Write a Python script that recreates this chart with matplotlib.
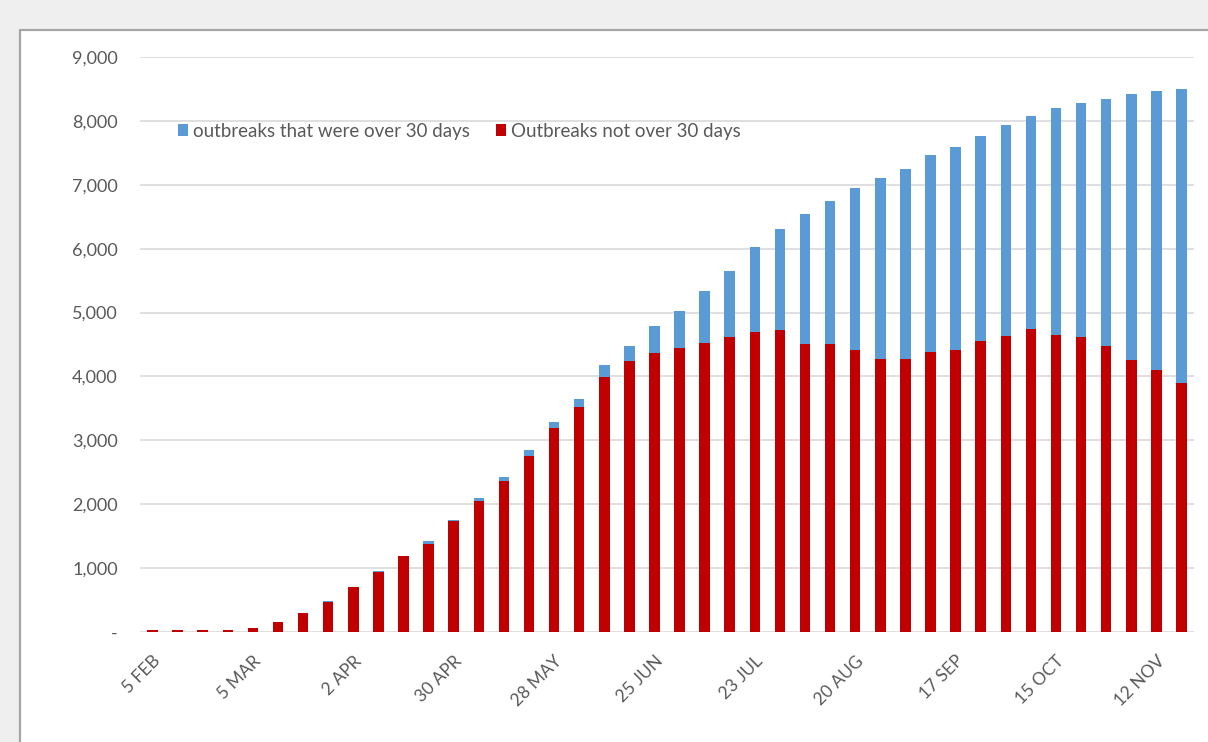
import matplotlib
matplotlib.use("Agg")
import matplotlib.pyplot as plt
from matplotlib.patches import Rectangle
import numpy as np

weeks = ["5 FEB", "12 FEB", "19 FEB", "26 FEB", "5 MAR", "12 MAR", "19 MAR", "26 MAR",
         "2 APR", "9 APR", "16 APR", "23 APR", "30 APR", "7 MAY", "14 MAY", "21 MAY",
         "28 MAY", "4 JUN", "11 JUN", "18 JUN", "25 JUN", "2 JUL", "9 JUL", "16 JUL",
         "23 JUL", "30 JUL", "6 AUG", "13 AUG", "20 AUG", "27 AUG", "3 SEP", "10 SEP",
         "17 SEP", "24 SEP", "1 OCT", "8 OCT", "15 OCT", "22 OCT", "29 OCT", "5 NOV",
         "12 NOV", "19 NOV"]

not_over_30 = [30, 30, 30, 30, 55, 155, 295, 475, 700, 940, 1185, 1370, 1740, 2050,
               2360, 2760, 3190, 3520, 3990, 4240, 4370, 4450, 4530, 4610, 4690, 4720,
               4500, 4500, 4420, 4270, 4270, 4380, 4420, 4560, 4640, 4750, 4650, 4610,
               4480, 4250, 4100, 3900]

total = [30, 30, 30, 30, 55, 160, 300, 480, 710, 950, 1190, 1430, 1750, 2100, 2420,
         2850, 3280, 3650, 4180, 4470, 4790, 5030, 5330, 5650, 6020, 6310, 6550, 6740,
         6950, 7110, 7250, 7460, 7590, 7760, 7940, 8070, 8200, 8285, 8340, 8420, 8470,
         8500]

over_30 = [t - r for t, r in zip(total, not_over_30)]

label_names = ["outbreaks that were over 30 days", "Outbreaks not over 30 days"]
yticks = [0, 1000, 2000, 3000, 4000, 5000, 6000, 7000, 8000, 9000]

RED = "#C00000"
BLUE = "#5B9BD5"
GRID = "#D9D9D9"
TXT = "#595959"

plt.rcParams['font.family'] = ['Lato', 'DejaVu Sans']

W, H = 1208, 742
fig = plt.figure(figsize=(W / 100, H / 100), dpi=100)
fig.patch.set_facecolor("#EFEFEF")
# white chart panel with grey border
bg = Rectangle((20 / W, -0.1), 1.2, (H - 30) / H + 0.1, transform=fig.transFigure,
               facecolor="white", edgecolor="#A6A6A6", linewidth=1.6, zorder=-10)
fig.add_artist(bg)

ax = fig.add_axes([140 / W, 110 / H, 1054 / W, 575 / H])
ax.set_zorder(5)
ax.set_facecolor("none")
x = np.arange(len(weeks))
ax.bar(x, not_over_30, width=0.42, color=RED, label=label_names[1], zorder=3)
ax.bar(x, over_30, width=0.42, bottom=not_over_30, color=BLUE, label=label_names[0], zorder=3)

ax.set_xlim(-0.5, len(weeks) - 0.5)
ax.set_ylim(0, 9000)
ax.set_yticks(yticks)
ax.set_yticklabels(["-" if v == 0 else f"{v:,}" for v in yticks])
ax.yaxis.grid(True, color=GRID, linewidth=1.2, zorder=0)
ax.set_axisbelow(True)
for s in ax.spines.values():
    s.set_visible(False)

ax.set_xticks(x[::4])
ax.set_xticklabels(weeks[::4], rotation=45, ha="right", rotation_mode="anchor")
ax.tick_params(axis="x", length=0, pad=15, labelsize=12.5, labelcolor=TXT)
ax.tick_params(axis="y", length=0, pad=16, labelsize=13, labelcolor=TXT)

handles, labels = ax.get_legend_handles_labels()
leg = ax.legend(handles[::-1], labels[::-1], ncol=2, frameon=False,
                loc="center left", bbox_to_anchor=(0.02, 0.871),
                handlelength=0.55, handleheight=0.55, handletextpad=0.25,
                columnspacing=1.4, fontsize=13.5)
for t in leg.get_texts():
    t.set_color(TXT)

fig.savefig("out.png", dpi=100, facecolor=fig.get_facecolor())
